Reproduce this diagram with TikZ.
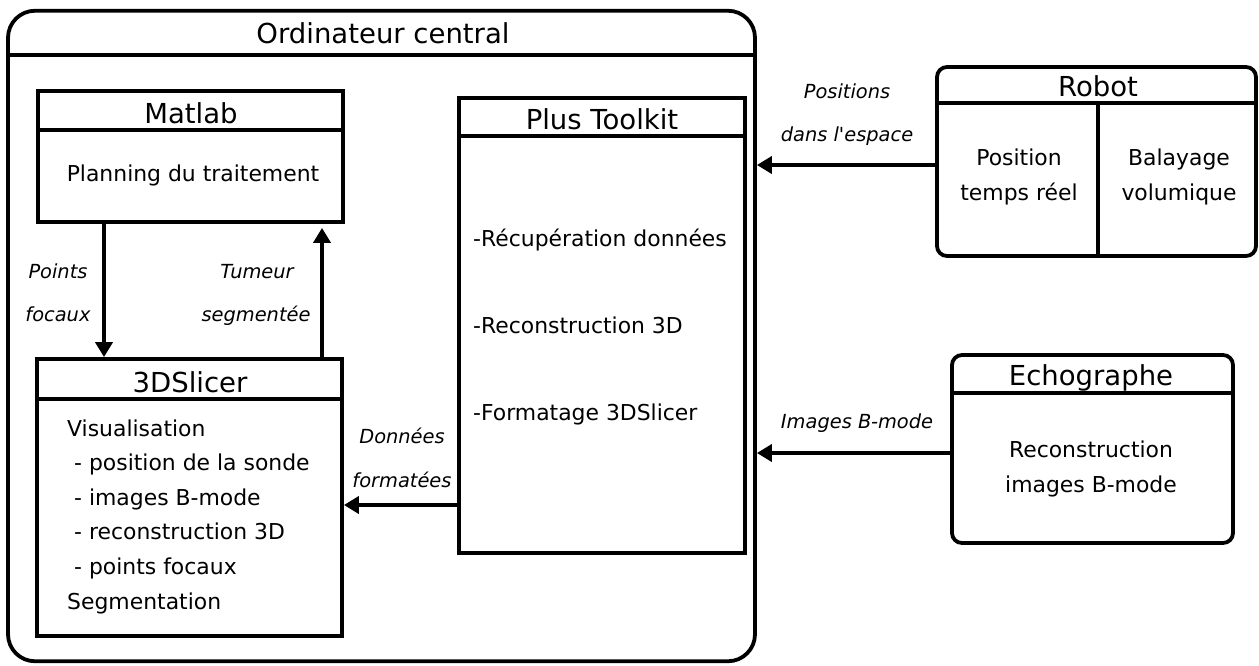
\documentclass[tikz,border=0pt]{standalone}
\usepackage{fontspec}
\setmainfont{DejaVu Sans}
\usetikzlibrary{arrows.meta}
\begin{document}
\begin{tikzpicture}[x=1pt,y=-1pt,
  box/.style={draw, line width=3.8pt, inner sep=0pt},
  hline/.style={line width=3.6pt},
  titletext/.style={font=\fontsize{27.5}{33}\selectfont, anchor=base, inner sep=0pt},
  bodytext/.style={font=\fontsize{21.9}{26}\selectfont, anchor=base, inner sep=0pt},
  bodyleft/.style={font=\fontsize{21.9}{26}\selectfont, anchor=base west, inner sep=0pt},
  lab/.style={font=\fontsize{19.4}{23}\selectfont\itshape, anchor=base, inner sep=0pt},
  arr/.style={line width=3.8pt, -{Triangle[length=15pt,width=17pt]}}]
\useasboundingbox (0,0) rectangle (1259,665);

% boxes
\node[box, rounded corners=27pt, minimum width=747pt, minimum height=650.5pt] (outer) at (381.5,336) {};
\node[box, minimum width=305pt, minimum height=131pt] (matlab) at (190.5,156.5) {};
\node[box, minimum width=305pt, minimum height=277pt] (slicer) at (189.5,497.5) {};
\node[box, minimum width=286pt, minimum height=455pt] (ptk) at (602,325.5) {};
\node[box, rounded corners=10pt, minimum width=319pt, minimum height=189pt] (robot) at (1096.5,161.5) {};
\node[box, rounded corners=10pt, minimum width=281pt, minimum height=188pt] (echo) at (1092.5,449) {};

% header lines
\coordinate (oh) at (0,55);
\coordinate (mh) at (0,130);
\coordinate (sh) at (0,399);
\coordinate (ph) at (0,136);
\coordinate (rh) at (0,103);
\coordinate (eh) at (0,393);
\coordinate (rd) at (1098,0);
\draw[hline] (outer.west |- oh) -- (outer.east |- oh);
\draw[hline] (matlab.west |- mh) -- (matlab.east |- mh);
\draw[hline] (slicer.west |- sh) -- (slicer.east |- sh);
\draw[hline] (ptk.west |- ph) -- (ptk.east |- ph);
\draw[hline] (robot.west |- rh) -- (robot.east |- rh);
\draw[hline] (echo.west |- eh) -- (echo.east |- eh);
\draw[hline] (rd |- rh) -- (rd |- robot.south);

% texts
\node[titletext] (t0) at (383,43) {Ordinateur central};
\node[titletext] (t1) at (191,123) {Matlab};
\node[bodytext] (b1) at (193,181) {Planning du traitement};
\node[titletext] (t2) at (190,392) {3DSlicer};
\node[bodyleft] (s1) at (67,436) {Visualisation};
\node[bodyleft] (s2) at (74,470.6) {- position de la sonde};
\node[bodyleft] (s3) at (74,505.2) {- images B-mode};
\node[bodyleft] (s4) at (74,539.8) {- reconstruction 3D};
\node[bodyleft] (s5) at (74,574.4) {- points focaux};
\node[bodyleft] (s6) at (67,609) {Segmentation};
\node[titletext] (t3) at (602,129) {Plus Toolkit};
\node[bodyleft] (p1) at (473,246) {-Récupération données};
\node[bodyleft] (p2) at (473,333) {-Reconstruction 3D};
\node[bodyleft] (p3) at (473,420) {-Formatage 3DSlicer};
\node[titletext] (t4) at (1098,96) {Robot};
\node[bodytext] (r1) at (1019,165) {Position};
\node[bodytext] (r2) at (1019,200) {temps réel};
\node[bodytext] (r3) at (1179,165) {Balayage};
\node[bodytext] (r4) at (1179,200) {volumique};
\node[titletext] (t5) at (1091,385) {Echographe};
\node[bodytext] (e1) at (1091,457) {Reconstruction};
\node[bodytext] (e2) at (1091,492) {images B-mode};

% labels
\node[lab] (l1) at (58,278) {Points};
\node[lab] (l2) at (58,321) {focaux};
\node[lab] (l3) at (257,278) {Tumeur};
\node[lab] (l4) at (256,321) {segmentée};
\node[lab] (l5) at (402,443) {Données};
\node[lab] (l6) at (402,487) {formatées};
\node[lab] (l7) at (847,98) {Positions};
\node[lab] (l8) at (847,141) {dans l\textquotesingle espace};
\node[lab] (l9) at (857,428) {Images B-mode};

% connectors
\coordinate (pf) at (104,0);
\coordinate (ts) at (322,0);
\coordinate (dy) at (0,505);
\coordinate (ry) at (0,165);
\coordinate (ey) at (0,453);
\draw[arr] (pf |- matlab.south) -- (pf |- slicer.north);
\draw[arr, shorten >=4pt] (ts |- slicer.north) -- (ts |- matlab.south);
\draw[arr] (dy -| ptk.west) -- (dy -| slicer.east);
\draw[arr] (ry -| robot.west) -- (ry -| outer.east);
\draw[arr] (ey -| echo.west) -- (ey -| outer.east);
\end{tikzpicture}
\end{document}
